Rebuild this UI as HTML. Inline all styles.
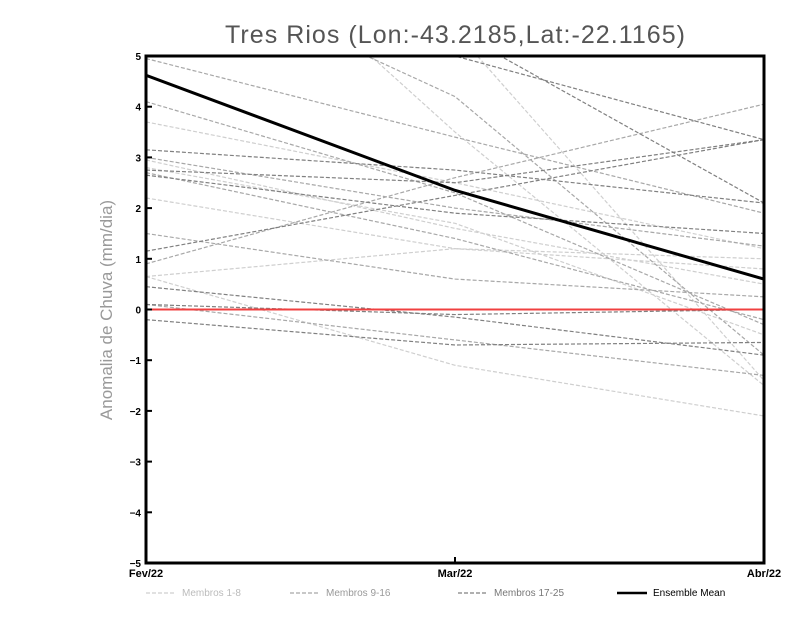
<!DOCTYPE html>
<html><head><meta charset="utf-8"><style>
body{margin:0;background:#fff;}
svg text{font-family:"Liberation Sans",sans-serif;}
</style></head><body>
<svg id="chart" width="800" height="618" viewBox="0 0 800 618" xmlns="http://www.w3.org/2000/svg">
<defs><clipPath id="pc"><rect x="146" y="56" width="618" height="507"/></clipPath></defs>
<text x="455" y="43" text-anchor="middle" font-size="25" fill="#555" textLength="460">Tres Rios (Lon:-43.2185,Lat:-22.1165)</text>
<text transform="translate(112,310) rotate(-90)" text-anchor="middle" font-size="17" fill="#999">Anomalia de Chuva (mm/dia)</text>
<g id="members" clip-path="url(#pc)"></g>
<g id="axes"></g>
</svg>
<script>
const categories=["Fev/22","Mar/22","Abr/22"];
const yTicks=[-5,-4,-3,-2,-1,0,1,2,3,4,5];
const members1=[[3.7,2.5,1.2],[2.2,1.2,0.8],[2.95,1.6,0.5],[0.65,1.2,1.0],[0.65,-1.1,-2.1],[9,3.5,-1.5],[12,5.5,-1.4],[2.8,1.7,-0.5]];
const members2=[[4.95,3.4,1.9],[0.9,2.6,4.05],[4.1,2.3,-0.3],[1.5,0.6,0.25],[2.7,1.4,-0.2],[0.1,-0.6,-1.3],[7,4.2,-0.9],[3.0,2.0,1.25]];
const members3=[[3.15,2.75,2.1],[2.75,2.5,3.35],[2.65,1.9,1.5],[1.15,2.25,3.35],[0.45,-0.15,-0.9],[0.1,-0.1,0.0],[-0.2,-0.7,-0.65],[8,5.5,2.1],[9,5,3.35]];
const ensembleMean=[4.62,2.35,0.6];
const X0=146,X1=764,Y0=563,Y1=56;
const xs=i=>X0+(X1-X0)*i/(categories.length-1);
const ys=v=>Y0-(v+5)/10*(Y0-Y1);
const NS="http://www.w3.org/2000/svg";
const g=document.getElementById('members'),ax=document.getElementById('axes');
function pl(parent,vals,stroke,w,dash,name){
 const p=document.createElementNS(NS,'polyline');
 p.setAttribute('points',vals.map((v,i)=>xs(i)+','+ys(v)).join(' '));
 p.setAttribute('fill','none');p.setAttribute('stroke',stroke);p.setAttribute('stroke-width',w);
 if(dash)p.setAttribute('stroke-dasharray',dash);
 
 
 parent.appendChild(p);}
members1.forEach(m=>pl(g,m,'#cfcfcf',1.2,'4,2','member-1-8-line'));
members2.forEach(m=>pl(g,m,'#a8a8a8',1.2,'4,2','member-9-16-line'));
members3.forEach(m=>pl(g,m,'#808080',1.2,'4,2','member-17-25-line'));
pl(g,[0,0,0],'#f04040',2,null,'zero-line');
pl(g,ensembleMean,'#000',3,null,'ensemble-mean-line');
function el(tag,attrs,parent,txt){const e=document.createElementNS(NS,tag);for(const k in attrs)e.setAttribute(k,attrs[k]);if(txt!==undefined)e.textContent=txt;parent.appendChild(e);return e;}
const fr=el('rect',{x:X0,y:Y1,width:X1-X0,height:Y0-Y1,fill:'none',stroke:'#000','stroke-width':3},ax);


yTicks.forEach(t=>{
 const l=el('line',{x1:X0,x2:X0+6,y1:ys(t),y2:ys(t),stroke:'#000','stroke-width':2},ax);
 
 
 const tx=el('text',{x:X0-5,y:ys(t)+4,'text-anchor':'end','font-size':10,'font-weight':'bold'},ax,t>=0?String(t):'−'+(-t));
 
 
});
categories.forEach((c,i)=>{
 const l=el('line',{x1:xs(i),x2:xs(i),y1:Y0,y2:Y0-6,stroke:'#000','stroke-width':2},ax);
 
 
 const tx=el('text',{x:xs(i),y:577,'text-anchor':'middle','font-size':11,'font-weight':'bold'},ax,c);
 
 
});
const leg=[['#cfcfcf','Membros 1-8',146,'#bbb',1.2,'4,2'],['#a8a8a8','Membros 9-16',290,'#999',1.2,'4,2'],['#808080','Membros 17-25',458,'#777',1.2,'4,2'],['#000','Ensemble Mean',617,'#000',2.5,null]];
leg.forEach(L=>{
 const gg=el('g',{},ax);
 
 
 const a={x1:L[2],x2:L[2]+30,y1:593,y2:593,stroke:L[0],'stroke-width':L[4]};if(L[5])a['stroke-dasharray']=L[5];
 el('line',a,gg);
 el('text',{x:L[2]+36,y:596,'font-size':10,fill:L[3]},gg,L[1]);
});
</script>
</body></html>
